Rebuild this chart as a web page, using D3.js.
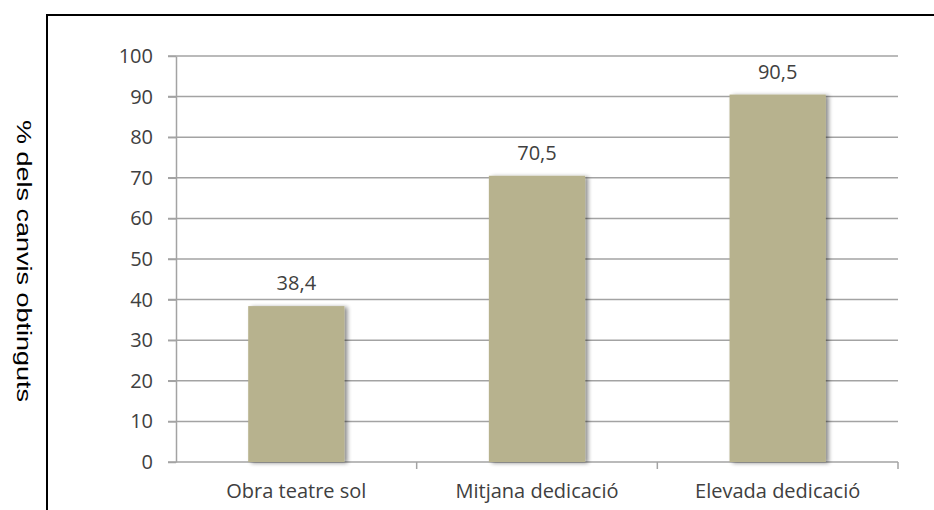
<!DOCTYPE html>
<html><head><meta charset="utf-8">
<script src="https://cdn.jsdelivr.net/npm/d3@7"></script>
<style>body{margin:0;background:#fff}svg{display:block}</style>
</head><body><svg id="c" width="934" height="510"></svg>
<script>
const categories = ["Obra teatre sol", "Mitjana dedicació", "Elevada dedicació"];
const values = [38.4, 70.5, 90.5];
const valueLabels = ["38,4", "70,5", "90,5"];
const yTicks = [0, 10, 20, 30, 40, 50, 60, 70, 80, 90, 100];
const yTitle = "% dels canvis obtinguts";

const svg = d3.select("#c");
const W = 934, H = 510;
const m = {left: 176, right: 36, top: 56, bottom: 48};
const x = d3.scaleBand().domain(categories).range([m.left, W - m.right]).paddingInner(0.6).paddingOuter(0.3);
const xb = d3.scaleBand().domain(categories).range([m.left, W - m.right]);
const y = d3.scaleLinear().domain([0, 100]).range([H - m.bottom, m.top]);
const FONT = "Open Sans, sans-serif";
const TXT = "#404040";

const defs = svg.append("defs");
const f = defs.append("filter").attr("id", "sh").attr("x", "-20%").attr("y", "-5%").attr("width", "150%").attr("height", "115%");
f.append("feGaussianBlur").attr("in", "SourceAlpha").attr("stdDeviation", 2.2);
f.append("feOffset").attr("dx", 3).attr("dy", 1).attr("result", "ob");
f.append("feComponentTransfer").append("feFuncA").attr("type", "linear").attr("slope", 0.45);
const mg = f.append("feMerge");
mg.append("feMergeNode");
mg.append("feMergeNode").attr("in", "SourceGraphic");

// border
svg.append("path").attr("d", `M47,${H + 5} L47,15 L${W + 5},15`).attr("fill", "none").attr("stroke", "#000").attr("stroke-width", 2);

// gridlines
svg.append("g").selectAll("line").data(yTicks.filter(d => d > 0)).join("line")
  .attr("x1", m.left - 8).attr("x2", W - m.right).attr("y1", d => y(d)).attr("y2", d => y(d))
  .attr("stroke", "#a3a3a3").attr("stroke-width", 1.5);

// y axis
const ya = svg.append("g").attr("transform", `translate(${m.left},0)`)
  .call(d3.axisLeft(y).tickValues(yTicks).tickSize(8).tickSizeOuter(0));
ya.attr("font-size", null).attr("font-family", null);
ya.select(".domain").attr("stroke", "#a3a3a3").attr("stroke-width", 1.5);
ya.selectAll(".tick line").attr("stroke", "#a3a3a3").attr("stroke-width", 1.5);
ya.selectAll("text").style("font-family", FONT).style("font-size", "20px").attr("fill", TXT).attr("x", -23);

// x axis
const xa = svg.append("g").attr("transform", `translate(0,${y(0)})`)
  .call(d3.axisBottom(xb).tickSize(0).tickSizeOuter(0).tickPadding(22));
xa.attr("font-size", null).attr("font-family", null);
xa.select(".domain").attr("stroke", "#a3a3a3").attr("stroke-width", 1.5).attr("d", `M${m.left - 8},0H${W - m.right}`);
xa.selectAll("text").style("font-family", FONT).style("font-size", "20px").attr("fill", TXT);
svg.append("g").selectAll("line").data(categories).join("line")
  .attr("x1", d => xb(d) + xb.bandwidth()).attr("x2", d => xb(d) + xb.bandwidth())
  .attr("y1", y(0)).attr("y2", y(0) + 7).attr("stroke", "#a3a3a3").attr("stroke-width", 1.5);

// bars
svg.append("g").selectAll("rect").data(values).join("rect")
  .attr("x", (d, i) => x(categories[i])).attr("width", x.bandwidth())
  .attr("y", d => y(d)).attr("height", d => y(0) - y(d))
  .attr("fill", "#b7b28e").attr("filter", "url(#sh)");

// value labels
svg.append("g").selectAll("text").data(values).join("text")
  .attr("x", (d, i) => x(categories[i]) + x.bandwidth() / 2).attr("y", d => y(d) - 16)
  .attr("text-anchor", "middle").style("font-family", FONT).style("font-size", "20px").attr("fill", TXT)
  .text((d, i) => valueLabels[i]);

// y title
svg.append("text").attr("transform", `translate(17,${(y(0) + y(100)) / 2 + 2}) rotate(90)`)
  .attr("text-anchor", "middle").style("font-family", "Liberation Sans, Arial, sans-serif").style("font-size", "21px").attr("fill", "#000")
  .attr("textLength", 282).attr("lengthAdjust", "spacingAndGlyphs")
  .text(yTitle);
</script></body></html>
